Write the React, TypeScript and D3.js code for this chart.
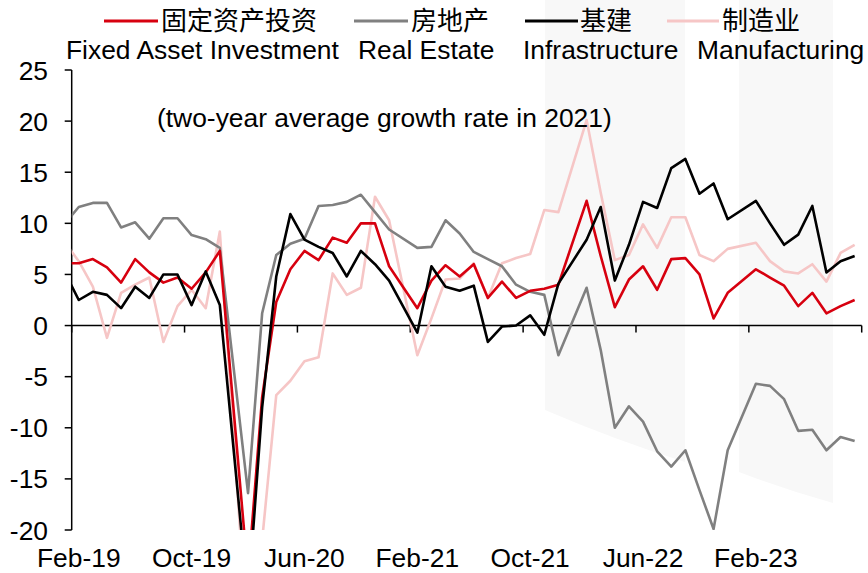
import React from "react";
import * as d3 from "d3";

// month keys (Dec-18 point lies left of the plot and is clipped)
const months = [
  "2018-12",
  "2019-02","2019-03","2019-04","2019-05","2019-06","2019-07","2019-08","2019-09","2019-10","2019-11","2019-12",
  "2020-02","2020-03","2020-04","2020-05","2020-06","2020-07","2020-08","2020-09","2020-10","2020-11","2020-12",
  "2021-02","2021-03","2021-04","2021-05","2021-06","2021-07","2021-08","2021-09","2021-10","2021-11","2021-12",
  "2022-02","2022-03","2022-04","2022-05","2022-06","2022-07","2022-08","2022-09","2022-10","2022-11","2022-12",
  "2023-02","2023-03","2023-04","2023-05","2023-06","2023-07","2023-08","2023-09",
];

const fai = [
  6.1,
  6.1, 6.5, 5.7, 4.2, 6.5, 5.2, 4.2, 4.7, 3.6, 5.2, 7.3,
  -24.5, -7.0, 2.3, 5.5, 7.3, 6.4, 8.6, 8.1, 10.0, 10.0, 5.8,
  1.7, 4.4, 5.9, 4.8, 6.0, 2.7, 4.3, 2.7, 3.4, 3.6, 4.0,
  12.2, 6.8, 1.8, 4.5, 5.8, 3.5, 6.5, 6.6, 5.0, 0.7, 3.2,
  5.5, 4.7, 3.9, 1.9, 3.2, 1.2, 1.9, 2.5,
];

const realEstate = [
  8.3,
  11.6, 12.0, 12.0, 9.6, 10.1, 8.5, 10.5, 10.5, 8.85, 8.45, 7.6,
  -16.4, 1.2, 6.9, 8.0, 8.5, 11.7, 11.8, 12.1, 12.8, 11.1, 9.4,
  7.6, 7.7, 10.3, 9.0, 7.2, 6.5, 5.8, 4.0, 3.3, 3.0, -2.9,
  3.7, -2.4, -10.0, -7.9, -9.4, -12.3, -13.8, -12.2, -16.1, -19.9, -12.2,
  -5.7, -5.9, -7.2, -10.3, -10.2, -12.2, -10.9, -11.3,
];

const infra = [
  8.0,
  2.5, 3.3, 3.0, 1.7, 3.8, 2.7, 5.0, 5.0, 2.0, 5.3, 2.0,
  -26.9, -8.0, 4.8, 10.9, 8.4, 7.7, 7.1, 4.8, 7.3, 6.0, 4.4,
  -0.7, 5.8, 3.8, 3.4, 3.9, -1.6, -0.1, 0.0, 1.0, -0.9, 4.1,
  8.4, 11.6, 4.4, 7.9, 12.1, 11.5, 15.4, 16.3, 12.9, 13.9, 10.4,
  12.2, 10.0, 7.9, 8.9, 11.7, 5.2, 6.3, 6.8,
];

const manuf = [
  10.0,
  6.3, 3.8, -1.2, 3.2, 4.0, 4.7, -1.6, 1.9, 3.5, 1.7, 9.2,
  -31.5, -21.0, -6.8, -5.4, -3.5, -3.1, 5.1, 3.0, 3.7, 12.6, 10.3,
  -2.9, 0.7, 4.5, 4.6, 6.1, 2.7, 6.1, 6.6, 7.0, 11.3, 11.1,
  20.1, 13.0, 6.4, 6.9, 9.9, 7.6, 10.6, 10.6, 6.9, 6.3, 7.5,
  8.1, 6.3, 5.3, 5.1, 6.0, 4.3, 7.1, 7.9,
];

const yTicks = [-20, -15, -10, -5, 0, 5, 10, 15, 20, 25];
const xTickLabels = ["Feb-19", "Oct-19", "Jun-20", "Feb-21", "Oct-21", "Jun-22", "Feb-23"];
const legendCn = ["固定资产投资", "房地产", "基建", "制造业"];
const legendEn = ["Fixed Asset Investment", "Real Estate", "Infrastructure", "Manufacturing"];
const annotation = "(two-year average growth rate in 2021)";

const COLORS = ["#d7000f", "#808080", "#000000", "#f6c6c6"];

export default function App() {
  const W = 868, H = 573;
  const x0 = 71.7, x1 = 861.7, yTop = 70, yBot = 530;
  const nSlots = 56;
  const x = d3.scaleLinear().domain([0, nSlots]).range([x0, x1]);
  const y = d3.scaleLinear().domain([-20, 25]).range([yBot, yTop]);
  const idx = months.map((m) => {
    const [yy, mm] = m.split("-").map(Number);
    return (yy - 2019) * 12 + (mm - 2);
  });
  const line = d3
    .line<number>()
    .x((_, i) => x(idx[i] + 0.5))
    .y((v) => y(v));

  const series = [fai, realEstate, infra, manuf];
  const drawOrder = [3, 1, 0, 2];
  const latin = "'Liberation Sans', Arial, sans-serif";
  const cjk = "'Noto Sans CJK SC', sans-serif";
  const fs = 26.4;

  const legendDash = [[104, 158], [354, 408], [525, 578], [667, 719]];
  const legendCnX = [161, 411, 580, 722];
  const legendEnX = [66, 358, 523, 697];

  return (
    <div style={{ position: "absolute", left: 0, top: 0 }}>
      <svg width={W} height={H} viewBox={`0 0 ${W} ${H}`} style={{ display: "block", background: "#fff" }}>
        <defs>
          <clipPath id="plot">
            <rect x={x0} y={yTop} width={x1 - x0} height={yBot - yTop} />
          </clipPath>
        </defs>
        {/* faint watermark */}
        <g fill="#f8f8f8">
          <path d="M545,0 L685,0 L685,462 Q615,440 545,410 Z" />
          <path d="M739,0 L833,0 L833,503 Q786,490 739,472 Z" />
        </g>

        {/* axes */}
        <g stroke="#000" strokeWidth={1.5}>
          <line x1={x0} x2={x0} y1={yTop} y2={yBot} />
          {yTicks.map((t) => (
            <line key={t} x1={x0 - 7} x2={x0} y1={y(t)} y2={y(t)} />
          ))}
          <line x1={x0} x2={x1} y1={y(0)} y2={y(0)} />
          {d3.range(0, nSlots + 1, 8).map((s) => (
            <line key={s} x1={x(s)} x2={x(s)} y1={y(0)} y2={y(0) + 7} />
          ))}
        </g>

        {/* y labels */}
        <g fontFamily={latin} fontSize={fs} fill="#000" textAnchor="end">
          {yTicks.map((t) => (
            <text key={t} x={48} y={y(t) + 9.5}>
              {t}
            </text>
          ))}
        </g>

        {/* x labels */}
        <g fontFamily={latin} fontSize={fs} fill="#000" textAnchor="middle">
          {xTickLabels.map((l, i) => (
            <text key={l} x={x(i * 8 + 0.5)} y={567}>
              {l}
            </text>
          ))}
        </g>

        {/* lines */}
        <g clipPath="url(#plot)" fill="none" strokeWidth={2.6} strokeLinejoin="round">
          {drawOrder.map((k) => (
            <path key={k} d={line(series[k]) || ""} stroke={COLORS[k]} />
          ))}
        </g>

        {/* annotation */}
        <text x={157} y={127} fontFamily={latin} fontSize={fs} fill="#000">
          {annotation}
        </text>

        {/* legend */}
        {legendCn.map((c, i) => (
          <g key={c}>
            <line x1={legendDash[i][0]} x2={legendDash[i][1]} y1={21} y2={21} stroke={COLORS[i]} strokeWidth={3} />
            <text x={legendCnX[i]} y={30} fontFamily={cjk} fontSize={26} fill="#000">
              {c}
            </text>
            <text x={legendEnX[i]} y={59} fontFamily={latin} fontSize={fs} fill="#000">
              {legendEn[i]}
            </text>
          </g>
        ))}
      </svg>
    </div>
  );
}
